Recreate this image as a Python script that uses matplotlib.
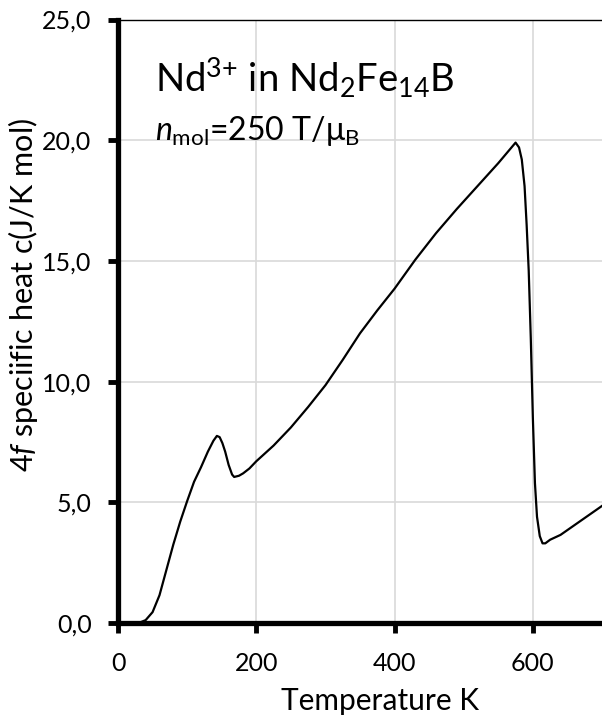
import matplotlib
matplotlib.use("Agg")
import matplotlib.pyplot as plt

# 4f specific heat of Nd3+ in Nd2Fe14B
temperatura = [0, 30, 40, 50, 60, 70, 80, 90, 100, 110, 120, 130, 138, 143, 147, 151,
               155, 160, 165, 168, 175, 181, 190, 200, 225, 250, 275, 300,
               325, 350, 375, 400, 430, 460, 490, 520, 550, 575, 580, 584, 588,
               591, 594, 597, 600, 603, 606, 610, 614, 618, 625, 640, 660, 680, 700]
calor = [0, 0, 0.12, 0.45, 1.15, 2.2, 3.25, 4.2, 5.05, 5.85, 6.45, 7.1, 7.55, 7.75, 7.7, 7.45,
         7.1, 6.55, 6.15, 6.05, 6.1, 6.2, 6.4, 6.7, 7.35, 8.1, 8.95, 9.85,
         10.9, 12.0, 12.95, 13.85, 15.05, 16.15, 17.15, 18.1, 19.05, 19.9, 19.7, 19.2, 18.1,
         16.5, 14.6, 11.8, 8.5, 5.8, 4.4, 3.6, 3.3, 3.3, 3.45, 3.65, 4.05, 4.45, 4.85]

xticks = [0, 200, 400, 600]
xtick_labels = ["0", "200", "400", "600"]
yticks = [0, 5, 10, 15, 20, 25]
ytick_labels = ["0,0", "5,0", "10,0", "15,0", "20,0", "25,0"]

plt.rcParams["font.family"] = ["Lato", "DejaVu Sans"]
plt.rcParams["mathtext.fontset"] = "custom"
plt.rcParams["mathtext.rm"] = "Lato"
plt.rcParams["mathtext.it"] = "Lato:italic"

fig = plt.figure(figsize=(6.02, 7.19), dpi=100)
ax = fig.add_axes([118 / 602, 1 - 623 / 719, 1 - 118 / 602, (623 - 19.5) / 719])

ax.plot(temperatura, calor, color="black", lw=1.6, solid_joinstyle="round", zorder=3)

ax.set_xlim(0, 700)
ax.set_ylim(0, 25)
ax.set_xticks(xticks)
ax.set_xticklabels(xtick_labels)
ax.set_yticks(yticks)
ax.set_yticklabels(ytick_labels)
ax.tick_params(axis="both", direction="out", length=7, width=3.5, labelsize=18)
ax.tick_params(axis="x", pad=14)
ax.tick_params(axis="y", pad=12)

ax.grid(True, color="#d9d9d9", lw=1.2, zorder=0)
ax.set_axisbelow(True)

ax.spines["left"].set_linewidth(3.8)
ax.spines["bottom"].set_linewidth(3.8)
ax.spines["top"].set_linewidth(1.0)
ax.spines["right"].set_visible(False)

ax.text(53, 22.0, r"Nd$^{3{+}}$ in Nd$_2$Fe$_{14}$B", fontsize=27.5, va="baseline")
ax.text(53, 20.0, r"$n_{\mathrm{mol}}$=250 T/μ$_{\mathrm{B}}$", fontsize=23, va="baseline")

fig.text(23 / 602, 1 - 295 / 719, r"4$f$ speciific heat c(J/K mol)", rotation=90,
         ha="center", va="center", fontsize=22)
fig.text(380 / 602, 1 - 710 / 719, "Temperature K", ha="center", va="baseline", fontsize=21.5)

fig.savefig("out.png", dpi=100)
